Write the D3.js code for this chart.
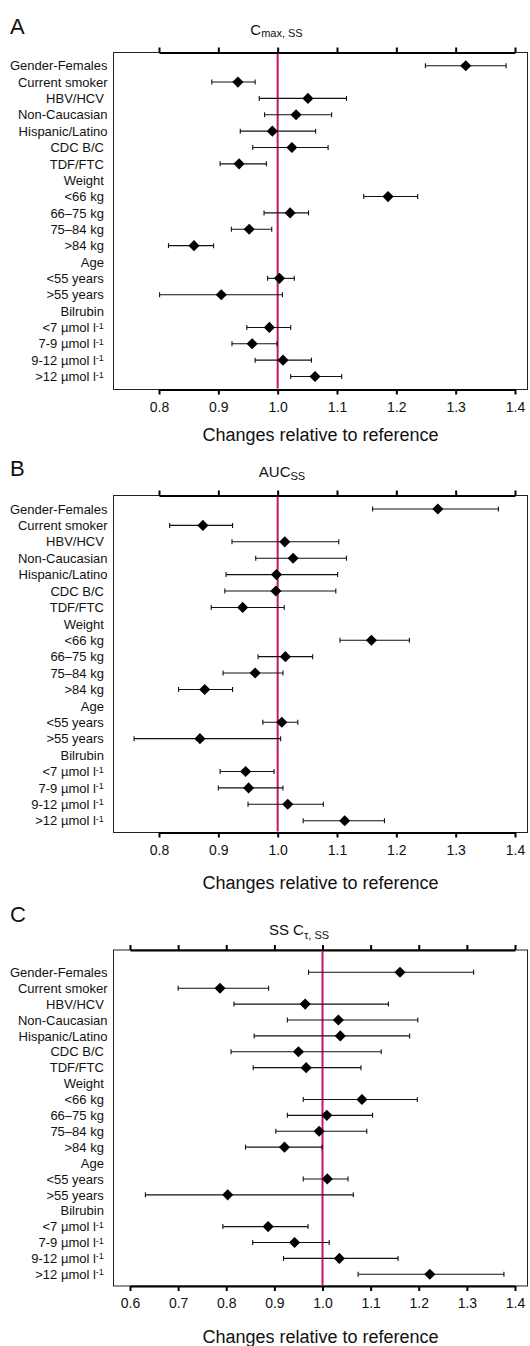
<!DOCTYPE html>
<html>
<head>
<meta charset="utf-8">
<script src="https://cdn.jsdelivr.net/npm/d3@7"></script>
<style>
  html, body { margin: 0; padding: 0; background: #fff; }
  svg { display: block; }
  text { font-family: "Liberation Sans", Arial, Helvetica, sans-serif; fill: #111; }
</style>
</head>
<body>
<svg id="chart" width="530" height="1346"></svg>
<script>
// Covariate rows (headers carry no estimate)
const rowLabels = [
  "Gender-Females", "Current smoker", "HBV/HCV\u00a0", "Non-Caucasian", "Hispanic/Latino",
  "CDC B/C\u00a0", "TDF/FTC\u00a0", "Weight\u00a0", "<66 kg\u00a0", "66\u201375 kg\u00a0",
  "75\u201384 kg\u00a0", ">84 kg\u00a0", "Age\u00a0", "<55 years\u00a0", ">55 years\u00a0",
  "Bilrubin\u00a0", "<7 \u00b5mol l", "7-9 \u00b5mol l", "9-12 \u00b5mol l", ">12 \u00b5mol l"
];
// rows whose unit carries a superscript "-1"
const superscriptRows = [16, 17, 18, 19];

// Cmax,ss: geometric mean ratio with 90% CI
const cmaxEst = [1.317, 0.933, 1.051, 1.031, 0.991, 1.024, 0.935, null, 1.186, 1.021, 0.952, 0.859, null, 1.003, 0.905, null, 0.986, 0.957, 1.009, 1.063];
const cmaxLo  = [1.249, 0.889, 0.969, 0.978, 0.937, 0.958, 0.903, null, 1.145, 0.977, 0.922, 0.816, null, 0.983, 0.801, null, 0.948, 0.923, 0.962, 1.022];
const cmaxHi  = [1.385, 0.962, 1.116, 1.091, 1.064, 1.085, 0.981, null, 1.236, 1.052, 0.990, 0.892, null, 1.028, 1.008, null, 1.022, 0.999, 1.057, 1.108];

// AUCss
const aucEst = [1.270, 0.874, 1.012, 1.026, 0.998, 0.997, 0.941, null, 1.158, 1.013, 0.962, 0.877, null, 1.007, 0.869, null, 0.946, 0.951, 1.017, 1.113];
const aucLo  = [1.160, 0.818, 0.923, 0.963, 0.913, 0.911, 0.888, null, 1.105, 0.967, 0.908, 0.833, null, 0.975, 0.758, null, 0.903, 0.900, 0.950, 1.043];
const aucHi  = [1.372, 0.924, 1.103, 1.116, 1.101, 1.098, 1.011, null, 1.222, 1.059, 1.009, 0.924, null, 1.034, 1.005, null, 0.994, 1.009, 1.077, 1.180];

// SS C tau,ss
const ctauEst = [1.161, 0.787, 0.964, 1.033, 1.037, 0.950, 0.966, null, 1.082, 1.009, 0.993, 0.921, null, 1.010, 0.803, null, 0.887, 0.942, 1.035, 1.223];
const ctauLo  = [0.971, 0.700, 0.816, 0.927, 0.858, 0.810, 0.856, null, 0.960, 0.927, 0.903, 0.840, null, 0.960, 0.632, null, 0.793, 0.855, 0.919, 1.074];
const ctauHi  = [1.314, 0.888, 1.137, 1.198, 1.181, 1.122, 1.080, null, 1.197, 1.104, 1.092, 0.999, null, 1.053, 1.064, null, 0.970, 1.014, 1.157, 1.377];

const ticksAB = [0.8, 0.9, 1.0, 1.1, 1.2, 1.3, 1.4];
const ticksC  = [0.6, 0.7, 0.8, 0.9, 1.0, 1.1, 1.2, 1.3, 1.4];

const panelLetters = ["A", "B", "C"];
const titleMain = ["C", "AUC", "SS C"];
const titleSub  = ["max, SS", "SS", "\u03c4, SS"];
const axisTitle = "Changes relative to reference";
const refValue = 1.0;

const svg = d3.select("#chart");
const refColor = "#c4146c";

const layouts = [
  { top: 52.5, bottom: 389.5, rowTop: 65.7, rowBottom: 376.5, letterY: 33.5, titleX: 276.5, titleY: 35, axisLabelY: 441, sub: 2 },
  { top: 495.5, bottom: 832.5, rowTop: 509, rowBottom: 820.7, letterY: 475.5, titleX: 282, titleY: 476.5, axisLabelY: 889, sub: 3.5 },
  { top: 950, bottom: 1286, rowTop: 972.3, rowBottom: 1274.3, letterY: 922, titleX: 299, titleY: 935, axisLabelY: 1343, sub: 3.5 }
];

const series = [
  { est: cmaxEst, lo: cmaxLo, hi: cmaxHi, ticks: ticksAB },
  { est: aucEst, lo: aucLo, hi: aucHi, ticks: ticksAB },
  { est: ctauEst, lo: ctauLo, hi: ctauHi, ticks: ticksC }
];

const frameLeft = 113.5, frameRight = 527.5;
const tickRight = 515;
const tickLeftAB = 159, tickLeftC = 130;

series.forEach((s, p) => {
  const L = layouts[p];
  const g = svg.append("g");

  const x = d3.scaleLinear()
    .domain([s.ticks[0], s.ticks[s.ticks.length - 1]])
    .range([p === 2 ? tickLeftC : tickLeftAB, tickRight]);

  const y = d3.scalePoint()
    .domain(d3.range(rowLabels.length))
    .range([L.rowTop, L.rowBottom]);

  // panel letter and title
  g.append("text").attr("x", 10).attr("y", L.letterY)
    .style("font-size", "22px").text(panelLetters[p]);

  const t = g.append("text").attr("x", L.titleX).attr("y", L.titleY)
    .attr("text-anchor", "middle").style("font-size", "15px");
  t.append("tspan").text(titleMain[p]);
  t.append("tspan").attr("dy", L.sub).style("font-size", "11px").text(titleSub[p]);

  // plot frame
  g.append("rect")
    .attr("x", frameLeft).attr("y", L.top)
    .attr("width", frameRight - frameLeft).attr("height", L.bottom - L.top)
    .attr("fill", "none").attr("stroke", "#222").attr("stroke-width", 1);

  // top axis: ticks only
  const top = g.append("g").attr("transform", `translate(0,${L.top})`)
    .call(d3.axisTop(x).tickValues(s.ticks).tickSize(5).tickSizeOuter(0).tickFormat(""));
  top.select(".domain").attr("stroke", "#000").attr("stroke-width", 2.2);
  top.selectAll(".tick line").attr("stroke", "#000").attr("stroke-width", 2);

  // bottom axis with labels
  const bot = g.append("g").attr("transform", `translate(0,${L.bottom})`)
    .call(d3.axisBottom(x).tickValues(s.ticks).tickSize(5).tickSizeOuter(0)
      .tickPadding(7.5).tickFormat(d3.format(".1f")));
  bot.select(".domain").attr("stroke", "#000").attr("stroke-width", 2.2);
  bot.selectAll(".tick line").attr("stroke", "#000").attr("stroke-width", 2);
  bot.selectAll(".tick text")
    .style("font-family", "\"Liberation Sans\", Arial, Helvetica, sans-serif")
    .style("font-size", "14px").attr("fill", "#111");

  // axis title
  g.append("text").attr("x", (frameLeft + frameRight) / 2).attr("y", L.axisLabelY)
    .attr("text-anchor", "middle").style("font-size", "18px").text(axisTitle);

  // row labels
  const labels = g.append("g").selectAll("text")
    .data(rowLabels).join("text")
    .attr("x", 107.5).attr("y", (d, i) => y(i)).attr("dy", "0.36em")
    .attr("text-anchor", "end").style("font-size", "13px").style("white-space", "pre");
  labels.each(function (d, i) {
    const el = d3.select(this);
    el.append("tspan").text(d);
    if (superscriptRows.includes(i)) {
      el.append("tspan").attr("dy", "-0.4em").style("font-size", "9px").text("-1");
      el.append("tspan").attr("dy", "0.4em").text("\u00a0");
    }
  });

  // reference line at ratio 1.0
  g.append("line")
    .attr("x1", x(refValue)).attr("x2", x(refValue))
    .attr("y1", L.top + 1).attr("y2", L.bottom - 1)
    .attr("stroke", refColor).attr("stroke-width", 2);

  const idx = d3.range(rowLabels.length).filter(i => s.est[i] != null);

  // confidence intervals
  const ci = g.append("g").attr("stroke", "#111").attr("stroke-width", 1.1);
  ci.selectAll("line.ci").data(idx).join("line").attr("class", "ci")
    .attr("x1", i => x(s.lo[i])).attr("x2", i => x(s.hi[i]))
    .attr("y1", i => y(i)).attr("y2", i => y(i));
  ci.selectAll("line.capL").data(idx).join("line").attr("class", "capL")
    .attr("x1", i => x(s.lo[i])).attr("x2", i => x(s.lo[i]))
    .attr("y1", i => y(i) - 2.5).attr("y2", i => y(i) + 2.5);
  ci.selectAll("line.capR").data(idx).join("line").attr("class", "capR")
    .attr("x1", i => x(s.hi[i])).attr("x2", i => x(s.hi[i]))
    .attr("y1", i => y(i) - 2.5).attr("y2", i => y(i) + 2.5);

  // point estimates (diamonds)
  const diamond = d3.symbol(d3.symbolSquare, 62);
  g.append("g").selectAll("path").data(idx).join("path")
    .attr("d", diamond)
    .attr("transform", i => `translate(${x(s.est[i])},${y(i)}) rotate(45)`)
    .attr("fill", "#000");
});
</script>
</body>
</html>
